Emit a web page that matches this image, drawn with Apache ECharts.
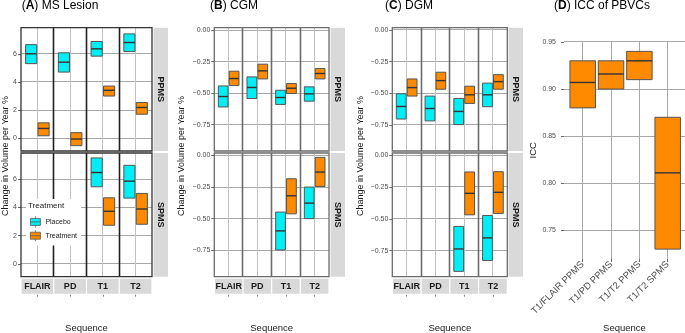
<!DOCTYPE html>
<html>
<head>
<meta charset="utf-8">
<script src="https://cdn.jsdelivr.net/npm/echarts@6/dist/echarts.min.js"></script>
<style>html,body{margin:0;padding:0;background:#fff;}#chart{width:685px;height:333px;}</style>
</head>
<body>
<div id="chart"></div>
<script>
// ---------- data ----------
const sequences = ['FLAIR', 'PD', 'T1', 'T2'];
// each entry: [lower, median, upper]
const lesionPPMSPlacebo   = [[5.3, 6.0, 6.65], [4.7, 5.4, 6.07], [5.83, 6.35, 6.87], [6.16, 6.8, 7.41]];
const lesionPPMSTreatment = [[0.18, 0.7, 1.1], [-0.52, -0.05, 0.4], [3.0, 3.41, 3.71], [1.71, 2.19, 2.54]];
const lesionSPMSPlacebo   = [null, null, [5.46, 6.47, 7.5], [4.66, 5.86, 6.98]];
const lesionSPMSTreatment = [null, null, [2.74, 3.73, 4.68], [2.81, 3.89, 4.99]];
const cgmPPMSPlacebo   = [[-0.61, -0.527, -0.443], [-0.543, -0.455, -0.371], [-0.59, -0.535, -0.477], [-0.564, -0.506, -0.45]];
const cgmPPMSTreatment = [[-0.44, -0.384, -0.326], [-0.387, -0.323, -0.27], [-0.503, -0.461, -0.424], [-0.387, -0.344, -0.305]];
const cgmSPMSPlacebo   = [null, null, [-0.748, -0.597, -0.448], [-0.5, -0.377, -0.25]];
const cgmSPMSTreatment = [null, null, [-0.462, -0.319, -0.184], [-0.245, -0.131, -0.015]];
const dgmPPMSPlacebo   = [[-0.703, -0.604, -0.504], [-0.718, -0.62, -0.522], [-0.747, -0.643, -0.541], [-0.606, -0.512, -0.42]];
const dgmPPMSTreatment = [[-0.522, -0.455, -0.387], [-0.468, -0.4, -0.334], [-0.58, -0.512, -0.444], [-0.468, -0.408, -0.353]];
const dgmSPMSPlacebo   = [null, null, [-0.913, -0.737, -0.56], [-0.827, -0.65, -0.474]];
const dgmSPMSTreatment = [null, null, [-0.469, -0.3, -0.132], [-0.458, -0.292, -0.13]];
const iccCategories = ['T1/FLAIR PPMS', 'T1/PD PPMS', 'T1/T2 PPMS', 'T1/T2 SPMS'];
const iccValues = [[0.88, 0.907, 0.93], [0.90, 0.916, 0.93], [0.91, 0.93, 0.94], [0.73, 0.811, 0.87]];
const lesionTicks = [0, 2, 4, 6];
const gmTicks = [-0.75, -0.5, -0.25, 0];
const iccTicks = [0.75, 0.8, 0.85, 0.9, 0.95];
const facetRows = ['PPMS', 'SPMS'];
const groupNames = ['Placebo', 'Treatment'];

// ---------- styling / layout ----------
const FONT = '"Liberation Sans", Arial, Helvetica, sans-serif';
const CYAN = '#00EEF5';
const ORANGE = '#FF8A00';
const GRID_COLOR = '#a8a8a8';
const rowLayout = [{ top: 27.7, height: 123.3 }, { top: 153, height: 123.7 }];
const groupStyle = [{ color: CYAN, shift: -0.19 }, { color: ORANGE, shift: 0.19 }];
const gmFmt = v => (v < 0 ? '\u2212' : '') + Math.abs(v).toFixed(2);
const seqIdx = sequences.map((s, i) => i);
const seqCenters = seqIdx.map(i => i + 0.5);      // category centres on a 0..4 value axis

const panels = [
  { letter: 'A', title: ' MS Lesion', titleX: 21.7, left: 21, right: 152, yMin: -0.9, yMax: 7.85, ticks: lesionTicks,
    fmt: v => String(v), sep: '#1f1f1f', border: '#333', stripX: 153.5, yNameX: 5.5,
    data: [[lesionPPMSPlacebo, lesionPPMSTreatment], [lesionSPMSPlacebo, lesionSPMSTreatment]] },
  { letter: 'B', title: ' CGM', titleX: 210, left: 214.3, right: 329, yMin: -0.96, yMax: 0.02, ticks: gmTicks,
    fmt: gmFmt, sep: '#6b6b6b', border: '#6b6b6b', stripX: 330.5, yNameX: 182,
    data: [[cgmPPMSPlacebo, cgmPPMSTreatment], [cgmSPMSPlacebo, cgmSPMSTreatment]] },
  { letter: 'C', title: ' DGM', titleX: 385, left: 392.3, right: 507.3, yMin: -0.955, yMax: 0.017, ticks: gmTicks,
    fmt: gmFmt, sep: '#6b6b6b', border: '#6b6b6b', stripX: 508.5, yNameX: 361,
    data: [[dgmPPMSPlacebo, dgmPPMSTreatment], [dgmSPMSPlacebo, dgmSPMSTreatment]] }
];

const crisp = v => Math.round(v - 0.5) + 0.5;
// centreOffset: 0.5 for the faceted panels (value axis 0..4), 0 for panel D
function boxRenderer(centreOffset, shift, wFrac) {
  return function (params, api) {
    const x = api.value(0) + centreOffset + shift;
    const lo = api.coord([x, api.value(1)]);
    const md = api.coord([x, api.value(2)]);
    const hi = api.coord([x, api.value(3)]);
    const w = wFrac * api.size([1, 0])[0];
    const cx = lo[0];
    return {
      type: 'group',
      children: [
        { type: 'rect', shape: { x: cx - w / 2, y: hi[1], width: w, height: lo[1] - hi[1] },
          style: { fill: api.visual('color'), stroke: '#555', lineWidth: 1 } },
        { type: 'line', shape: { x1: cx - w / 2, y1: md[1], x2: cx + w / 2, y2: md[1] },
          style: { stroke: '#333', lineWidth: 1.4 } }
      ]
    };
  };
}
// one element group per facet: tick gridlines, cell centre lines, sequence separators and the frame,
// all positioned through the facet's own axes (api.coord)
function facetRenderer(ticks, sepColor, borderColor) {
  return function (params, api) {
    const cs = params.coordSys;
    const children = [];
    ticks.forEach(v => {
      const y = crisp(api.coord([0, v])[1]);
      children.push({ type: 'line', shape: { x1: cs.x, y1: y, x2: cs.x + cs.width, y2: y },
        style: { stroke: GRID_COLOR, lineWidth: 1 } });
    });
    seqCenters.forEach(c => {
      const x = crisp(api.coord([c, ticks[0]])[0]);
      children.push({ type: 'line', shape: { x1: x, y1: cs.y, x2: x, y2: cs.y + cs.height },
        style: { stroke: '#c2c2c2', lineWidth: 1 } });
    });
    seqIdx.slice(1).forEach(i => {
      const x = crisp(api.coord([i, ticks[0]])[0]);
      children.push({ type: 'line', shape: { x1: x, y1: cs.y, x2: x, y2: cs.y + cs.height },
        style: { stroke: sepColor, lineWidth: 1.6 } });
    });
    children.push({ type: 'rect', shape: { x: cs.x, y: cs.y, width: cs.width, height: cs.height },
      style: { fill: null, stroke: borderColor, lineWidth: 1.3 } });
    return { type: 'group', children: children };
  };
}
function vLineRenderer(color, width) {
  return function (params, api) {
    const x = crisp(api.coord([api.value(0), api.value(1)])[0]);
    const cs = params.coordSys;
    return { type: 'line', shape: { x1: x, y1: cs.y, x2: x, y2: cs.y + cs.height },
             style: { stroke: color, lineWidth: width } };
  };
}
function hLineRenderer(params, api) {
  const y = crisp(api.coord([api.value(0), api.value(1)])[1]);
  const cs = params.coordSys;
  return { type: 'line', shape: { x1: cs.x, y1: y, x2: cs.x + cs.width, y2: y },
           style: { stroke: GRID_COLOR, lineWidth: 1 } };
}

const grids = [], xAxes = [], yAxes = [], series = [], graphics = [];
const txt = (x, y, text, o) => Object.assign({ type: 'text', x: x, y: y, z: 100,
  style: Object.assign({ text: text, fontFamily: FONT, fontSize: 9, fill: '#1a1a1a',
    textAlign: 'center', textVerticalAlign: 'middle' }, o && o.style) }, o && o.el);
const lineSeries = (xi, yi, data, renderItem, z) => ({ type: 'custom', silent: true, clip: false, z: z,
  xAxisIndex: xi, yAxisIndex: yi, data: data, encode: { x: 0, y: 1 }, renderItem: renderItem });

panels.forEach(p => {
  const w = p.right - p.left;
  const cellW = w / sequences.length;
  graphics.push(txt(p.titleX, 6, '({b|' + p.letter + '})' + p.title, {
    style: { fontSize: 12, fill: '#000', textAlign: 'left', rich: { b: { fontWeight: 'bold', fontSize: 12, fontFamily: FONT, fill: '#000' } } } }));
  graphics.push(txt(p.yNameX, 156, 'Change in Volume per Year %', { el: { rotation: Math.PI / 2 } }));
  rowLayout.forEach((row, ri) => {
    const gi = grids.length;
    const isBottom = ri === 1;
    grids.push({ left: p.left, top: row.top, width: w, height: row.height, show: false, outerBoundsMode: 'none' });
    const xi = xAxes.length;
    xAxes.push({
      type: 'value', gridIndex: gi, min: 0, max: sequences.length, position: 'bottom',
      axisLine: { show: false, onZero: false }, axisTick: { show: false }, splitLine: { show: false },
      axisLabel: isBottom ? {
        show: true, customValues: seqCenters, formatter: v => sequences[Math.floor(v)],
        margin: 2, fontSize: 9, fontWeight: 'bold', fontFamily: FONT, color: '#1a1a1a',
        backgroundColor: '#d9d9d9', width: cellW - 1.2, height: 15, lineHeight: 15, align: 'center', verticalAlign: 'top'
      } : { show: false },
      name: isBottom ? 'Sequence' : '', nameLocation: 'middle', nameGap: 47,
      nameTextStyle: { fontSize: 9.5, fontFamily: FONT, color: '#1a1a1a' }
    });
    if (isBottom) {
      xAxes.push({ type: 'value', gridIndex: gi, min: 0, max: sequences.length, position: 'bottom', offset: 18,
        axisLine: { show: false, onZero: false }, axisLabel: { show: false }, splitLine: { show: false },
        axisTick: { show: true, customValues: seqCenters, length: 2, lineStyle: { color: '#666', width: 0.8 } } });
    }
    const yi = yAxes.length;
    yAxes.push({
      type: 'value', gridIndex: gi, min: p.yMin, max: p.yMax,
      axisLine: { show: false, onZero: false },
      axisTick: { show: true, length: 3, lineStyle: { color: '#444', width: 0.8 }, customValues: p.ticks },
      axisLabel: { customValues: p.ticks, formatter: p.fmt, fontSize: 7, fontFamily: FONT, color: '#4d4d4d', margin: 4 },
      splitLine: { show: false }
    });
    // gridlines, facet separators and frame in one group
    series.push(lineSeries(xi, yi, [[0, p.ticks[0]]], facetRenderer(p.ticks, p.sep, p.border), 4.5));
    groupNames.forEach((gname, k) => {
      const arr = p.data[ri][k];
      series.push({
        type: 'custom', name: gname, z: 5, clip: false, xAxisIndex: xi, yAxisIndex: yi,
        itemStyle: { color: groupStyle[k].color },
        data: arr.map((d, i) => d ? [i, d[0], d[1], d[2]] : null).filter(Boolean),
        encode: { x: 0, y: [1, 2, 3] },
        renderItem: boxRenderer(0.5, groupStyle[k].shift, 0.34)
      });
    });
    // facet strip on the right
    graphics.push({ type: 'rect', z: 50, shape: { x: p.stripX, y: row.top, width: 14.5, height: row.height },
      style: { fill: '#d9d9d9' } });
    graphics.push(txt(p.stripX + 7.25, row.top + row.height / 2, facetRows[ri],
      { el: { rotation: -Math.PI / 2 }, style: { fontWeight: 'bold', fontSize: 9 } }));
  });
});

// ---------- panel D ----------
graphics.push(txt(554, 6, '({b|D}) ICC of PBVCs', {
  style: { fontSize: 12, fill: '#000', textAlign: 'left', rich: { b: { fontWeight: 'bold', fontSize: 12, fontFamily: FONT, fill: '#000' } } } }));
const dGi = grids.length;
grids.push({ left: 564, top: 41.5, width: 121, height: 217.5, show: false, outerBoundsMode: 'none' });
const dXi = xAxes.length;
const iccIdx = iccCategories.map((c, i) => i);
xAxes.push({
  type: 'value', gridIndex: dGi, min: -0.66, max: 3.61,
  axisLine: { show: false, onZero: false },
  axisTick: { show: true, length: 3, lineStyle: { color: '#444', width: 0.8 }, customValues: iccIdx },
  axisLabel: { customValues: iccIdx, formatter: v => iccCategories[Math.round(v)], rotate: 45,
    fontSize: 9.5, fontFamily: FONT, color: '#4d4d4d', margin: 4 },
  splitLine: { show: false },
  name: 'Sequence', nameLocation: 'middle', nameGap: 64,
  nameTextStyle: { fontSize: 9.5, fontFamily: FONT, color: '#1a1a1a' }
});
const dYi = yAxes.length;
yAxes.push({
  type: 'value', gridIndex: dGi, min: 0.7195, max: 0.9505,
  axisLine: { show: false, onZero: false },
  axisTick: { show: true, length: 3, lineStyle: { color: '#444', width: 0.8 }, customValues: iccTicks },
  axisLabel: { customValues: iccTicks, formatter: v => v.toFixed(2), fontSize: 7, fontFamily: FONT, color: '#4d4d4d', margin: 8 },
  splitLine: { show: false },
  name: 'ICC', nameLocation: 'middle', nameGap: 18, nameRotate: 90,
  nameTextStyle: { fontSize: 9.5, fontFamily: FONT, color: '#1a1a1a' }
});
series.push(lineSeries(dXi, dYi, iccTicks.map(v => [0, v]), hLineRenderer, 4));
series.push(lineSeries(dXi, dYi, iccIdx.map(i => [i, iccTicks[0]]), vLineRenderer(GRID_COLOR, 1), 4));
series.push({
  type: 'custom', name: 'ICC', z: 5, clip: false, xAxisIndex: dXi, yAxisIndex: dYi,
  itemStyle: { color: ORANGE },
  data: iccValues.map((d, i) => [i, d[0], d[1], d[2]]),
  encode: { x: 0, y: [1, 2, 3] },
  renderItem: boxRenderer(0, 0, 0.9)
});

// legend title
graphics.push(txt(28, 206, 'Treatment', { style: { fontSize: 8, textAlign: 'left' } }));

const chart = echarts.init(document.getElementById('chart'), null, { renderer: 'canvas' });
chart.setOption({
  animation: false,
  backgroundColor: '#fff',
  textStyle: { fontFamily: FONT },
  grid: grids,
  xAxis: xAxes,
  yAxis: yAxes,
  series: series,
  legend: {
    data: groupNames, orient: 'vertical', left: 26, top: 199, padding: [17, 4, 4, 4], z: 10,
    backgroundColor: '#fff', itemWidth: 10, itemHeight: 11, itemGap: 2, selectedMode: false,
    icon: 'path://M0,2H10V9H0Z M0,5.5H10 M5,0V2 M5,9V11',
    itemStyle: { borderColor: '#555', borderWidth: 0.8 },
    textStyle: { fontSize: 7, fontFamily: FONT, color: '#1a1a1a' }
  },
  graphic: graphics
});
</script>
</body>
</html>
